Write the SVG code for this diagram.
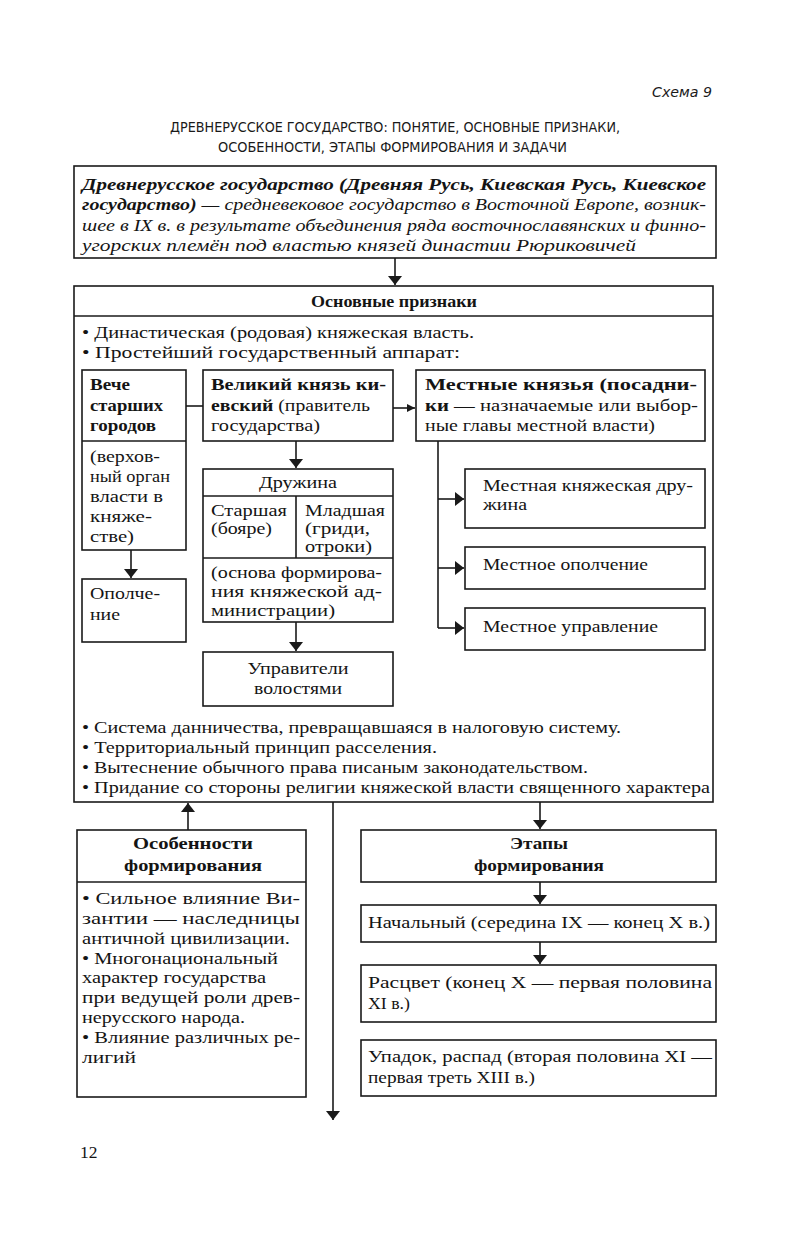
<svg xmlns="http://www.w3.org/2000/svg" width="791" height="1245" viewBox="0 0 791 1245">
<style>
.t{font-family:"Liberation Serif","Times New Roman",serif;font-size:17.5px;fill:#141414}
.s{font-size:16px}
.b{font-weight:bold}
.i{font-style:italic}
.h{font-family:"DejaVu Sans Condensed","DejaVu Sans",sans-serif;font-size:13.5px;fill:#1a1a1a}
.box{fill:none;stroke:#1a1a1a;stroke-width:1.6}
.ln{fill:none;stroke:#1a1a1a;stroke-width:1.6}
</style>
<defs>
<marker id="ah" viewBox="0 0 10 10" refX="10" refY="5" markerWidth="8" markerHeight="8" markerUnits="userSpaceOnUse" orient="auto">
<path d="M0,0 L10,5 L0,10 z" fill="#1a1a1a"/>
</marker>
<marker id="ahs" viewBox="0 0 10 10" refX="10" refY="5" markerWidth="9" markerHeight="14" markerUnits="userSpaceOnUse" orient="auto" preserveAspectRatio="none">
<path d="M0,0 L10,5 L0,10 z" fill="#1a1a1a"/>
</marker>
</defs>
<rect width="791" height="1245" fill="#ffffff"/>

<g id="header">
<text class="h i" x="652" y="97" textLength="60" lengthAdjust="spacingAndGlyphs">Схема 9</text>
<text class="h" x="170" y="132" textLength="450" lengthAdjust="spacingAndGlyphs">ДРЕВНЕРУССКОЕ ГОСУДАРСТВО: ПОНЯТИЕ, ОСНОВНЫЕ ПРИЗНАКИ,</text>
<text class="h" x="218" y="152" textLength="349" lengthAdjust="spacingAndGlyphs">ОСОБЕННОСТИ, ЭТАПЫ ФОРМИРОВАНИЯ И ЗАДАЧИ</text>
</g>

<g id="definition">
<rect class="box" x="74" y="166" width="642" height="92"/>
<text class="t i" x="82" y="190" textLength="624" lengthAdjust="spacingAndGlyphs"><tspan class="b">Древнерусское государство (Древняя Русь, Киевская Русь, Киевское</tspan></text>
<text class="t i" x="82" y="210" textLength="624" lengthAdjust="spacingAndGlyphs"><tspan class="b">государство)</tspan> — средневековое государство в Восточной Европе, возник-</text>
<text class="t i" x="82" y="231" textLength="624" lengthAdjust="spacingAndGlyphs">шее в IX в. в результате объединения ряда восточнославянских и финно-</text>
<text class="t i" x="82" y="251" textLength="554" lengthAdjust="spacingAndGlyphs">угорских племён под властью князей династии Рюриковичей</text>
</g>

<g id="main">
<rect class="box" x="74" y="286" width="639" height="516"/>
<line class="ln" x1="74" y1="316" x2="713" y2="316"/>
<text class="t b" x="394" y="307" text-anchor="middle" textLength="166" lengthAdjust="spacingAndGlyphs">Основные признаки</text>
<text class="t" x="82" y="338" textLength="392" lengthAdjust="spacingAndGlyphs">• Династическая (родовая) княжеская власть.</text>
<text class="t" x="82" y="358" textLength="378" lengthAdjust="spacingAndGlyphs">• Простейший государственный аппарат:</text>
<text class="t" x="82" y="733" textLength="539" lengthAdjust="spacingAndGlyphs">• Система данничества, превращавшаяся в налоговую систему.</text>
<text class="t" x="82" y="753" textLength="355" lengthAdjust="spacingAndGlyphs">• Территориальный принцип расселения.</text>
<text class="t" x="82" y="773" textLength="506" lengthAdjust="spacingAndGlyphs">• Вытеснение обычного права писаным законодательством.</text>
<text class="t" x="82" y="793" textLength="628" lengthAdjust="spacingAndGlyphs">• Придание со стороны религии княжеской власти священного характера</text>
</g>

<g id="veche">
<rect class="box" x="82" y="370" width="104" height="180"/>
<line class="ln" x1="82" y1="441" x2="186" y2="441"/>
<text class="t b" x="90" y="390" textLength="40" lengthAdjust="spacingAndGlyphs">Вече</text>
<text class="t b" x="90" y="411" textLength="73" lengthAdjust="spacingAndGlyphs">старших</text>
<text class="t b" x="90" y="431" textLength="66" lengthAdjust="spacingAndGlyphs">городов</text>
<text class="t" x="90" y="462" textLength="70" lengthAdjust="spacingAndGlyphs">(верхов-</text>
<text class="t" x="90" y="482" textLength="80" lengthAdjust="spacingAndGlyphs">ный орган</text>
<text class="t" x="90" y="502" textLength="73" lengthAdjust="spacingAndGlyphs">власти в</text>
<text class="t" x="90" y="522" textLength="62" lengthAdjust="spacingAndGlyphs">княже-</text>
<text class="t" x="90" y="542" textLength="44" lengthAdjust="spacingAndGlyphs">стве)</text>
</g>

<g id="opolchenie">
<rect class="box" x="82" y="579" width="104" height="63"/>
<text class="t" x="90" y="599" textLength="70" lengthAdjust="spacingAndGlyphs">Ополче-</text>
<text class="t" x="90" y="620" textLength="30" lengthAdjust="spacingAndGlyphs">ние</text>
</g>

<g id="velikiy">
<rect class="box" x="203" y="370" width="190" height="71"/>
<text class="t b" x="211" y="390" textLength="175" lengthAdjust="spacingAndGlyphs">Великий князь ки-</text>
<text class="t" x="211" y="411" textLength="159" lengthAdjust="spacingAndGlyphs"><tspan class="b">евский</tspan> (правитель</text>
<text class="t" x="211" y="431" textLength="109" lengthAdjust="spacingAndGlyphs">государства)</text>
</g>

<g id="druzhina">
<rect class="box" x="203" y="469" width="190" height="153"/>
<line class="ln" x1="203" y1="496" x2="393" y2="496"/>
<line class="ln" x1="203" y1="558" x2="393" y2="558"/>
<line class="ln" x1="296" y1="496" x2="296" y2="558"/>
<text class="t" x="298" y="488" text-anchor="middle" textLength="78" lengthAdjust="spacingAndGlyphs">Дружина</text>
<text class="t s" x="211" y="516" textLength="76" lengthAdjust="spacingAndGlyphs">Старшая</text>
<text class="t s" x="211" y="534" textLength="61" lengthAdjust="spacingAndGlyphs">(бояре)</text>
<text class="t s" x="305" y="516" textLength="80" lengthAdjust="spacingAndGlyphs">Младшая</text>
<text class="t s" x="305" y="534" textLength="65" lengthAdjust="spacingAndGlyphs">(гриди,</text>
<text class="t s" x="305" y="552" textLength="67" lengthAdjust="spacingAndGlyphs">отроки)</text>
<text class="t s" x="211" y="578" textLength="171" lengthAdjust="spacingAndGlyphs">(основа формирова-</text>
<text class="t s" x="211" y="597" textLength="171" lengthAdjust="spacingAndGlyphs">ния княжеской ад-</text>
<text class="t s" x="211" y="616" textLength="124" lengthAdjust="spacingAndGlyphs">министрации)</text>
</g>

<g id="upraviteli">
<rect class="box" x="203" y="652" width="190" height="54"/>
<text class="t" x="298" y="674" text-anchor="middle" textLength="101" lengthAdjust="spacingAndGlyphs">Управители</text>
<text class="t" x="298" y="694" text-anchor="middle" textLength="88" lengthAdjust="spacingAndGlyphs">волостями</text>
</g>

<g id="mestnye">
<rect class="box" x="416" y="370" width="289" height="71"/>
<text class="t b" x="425" y="390" textLength="272" lengthAdjust="spacingAndGlyphs">Местные князья (посадни-</text>
<text class="t" x="425" y="411" textLength="273" lengthAdjust="spacingAndGlyphs"><tspan class="b">ки</tspan> — назначаемые или выбор-</text>
<text class="t" x="425" y="431" textLength="230" lengthAdjust="spacingAndGlyphs">ные главы местной власти)</text>
</g>

<g id="mestnaya-druzhina">
<rect class="box" x="465" y="469" width="240" height="59"/>
<text class="t" x="483" y="491" textLength="210" lengthAdjust="spacingAndGlyphs">Местная княжеская дру-</text>
<text class="t" x="483" y="510" textLength="44" lengthAdjust="spacingAndGlyphs">жина</text>
</g>

<g id="mestnoe-opolchenie">
<rect class="box" x="465" y="547" width="240" height="42"/>
<text class="t" x="483" y="570" textLength="165" lengthAdjust="spacingAndGlyphs">Местное ополчение</text>
</g>

<g id="mestnoe-upravlenie">
<rect class="box" x="465" y="608" width="240" height="42"/>
<text class="t" x="483" y="632" textLength="175" lengthAdjust="spacingAndGlyphs">Местное управление</text>
</g>

<g id="osobennosti">
<rect class="box" x="77" y="830" width="229" height="267"/>
<line class="ln" x1="77" y1="882" x2="306" y2="882"/>
<text class="t b" x="193" y="849" text-anchor="middle" textLength="120" lengthAdjust="spacingAndGlyphs">Особенности</text>
<text class="t b" x="193" y="871" text-anchor="middle" textLength="138" lengthAdjust="spacingAndGlyphs">формирования</text>
<text class="t" x="82" y="904" textLength="218" lengthAdjust="spacingAndGlyphs">• Сильное влияние Ви-</text>
<text class="t" x="82" y="924" textLength="218" lengthAdjust="spacingAndGlyphs">зантии — наследницы</text>
<text class="t" x="82" y="944" textLength="208" lengthAdjust="spacingAndGlyphs">античной цивилизации.</text>
<text class="t" x="82" y="964" textLength="196" lengthAdjust="spacingAndGlyphs">• Многонациональный</text>
<text class="t" x="82" y="983" textLength="184" lengthAdjust="spacingAndGlyphs">характер государства</text>
<text class="t" x="82" y="1003" textLength="218" lengthAdjust="spacingAndGlyphs">при ведущей роли древ-</text>
<text class="t" x="82" y="1023" textLength="163" lengthAdjust="spacingAndGlyphs">нерусского народа.</text>
<text class="t" x="82" y="1043" textLength="218" lengthAdjust="spacingAndGlyphs">• Влияние различных ре-</text>
<text class="t" x="82" y="1063" textLength="54" lengthAdjust="spacingAndGlyphs">лигий</text>
</g>

<g id="etapy">
<rect class="box" x="361" y="830" width="355" height="52"/>
<text class="t b" x="539" y="849" text-anchor="middle" textLength="58" lengthAdjust="spacingAndGlyphs">Этапы</text>
<text class="t b" x="539" y="871" text-anchor="middle" textLength="130" lengthAdjust="spacingAndGlyphs">формирования</text>
</g>

<g id="nachalny">
<rect class="box" x="361" y="905" width="355" height="37"/>
<text class="t" x="368" y="928" textLength="342" lengthAdjust="spacingAndGlyphs">Начальный (середина IX — конец X в.)</text>
</g>

<g id="rascvet">
<rect class="box" x="361" y="965" width="355" height="57"/>
<text class="t" x="368" y="988" textLength="344" lengthAdjust="spacingAndGlyphs">Расцвет (конец X — первая половина</text>
<text class="t" x="368" y="1009" textLength="42" lengthAdjust="spacingAndGlyphs">XI в.)</text>
</g>

<g id="upadok">
<rect class="box" x="361" y="1040" width="355" height="56"/>
<text class="t" x="368" y="1062" textLength="344" lengthAdjust="spacingAndGlyphs">Упадок, распад (вторая половина XI —</text>
<text class="t" x="368" y="1083" textLength="167" lengthAdjust="spacingAndGlyphs">первая треть XIII в.)</text>
</g>

<g id="connectors">
<line class="ln" x1="395" y1="258" x2="395" y2="285" marker-end="url(#ahs)"/>
<line class="ln" x1="186" y1="406" x2="203" y2="406"/>
<line class="ln" x1="393" y1="408" x2="415" y2="408" marker-end="url(#ah)"/>
<line class="ln" x1="131" y1="550" x2="131" y2="578" marker-end="url(#ahs)"/>
<line class="ln" x1="296" y1="441" x2="296" y2="468" marker-end="url(#ahs)"/>
<line class="ln" x1="296" y1="622" x2="296" y2="651" marker-end="url(#ahs)"/>
<line class="ln" x1="438" y1="441" x2="438" y2="628"/>
<line class="ln" x1="438" y1="499" x2="464" y2="499" marker-end="url(#ahs)"/>
<line class="ln" x1="438" y1="568" x2="464" y2="568" marker-end="url(#ahs)"/>
<line class="ln" x1="438" y1="628" x2="464" y2="628" marker-end="url(#ahs)"/>
<line class="ln" x1="188" y1="830" x2="188" y2="803" marker-end="url(#ahs)"/>
<line class="ln" x1="333" y1="802" x2="333" y2="1120" marker-end="url(#ahs)"/>
<line class="ln" x1="540" y1="802" x2="540" y2="829" marker-end="url(#ahs)"/>
<line class="ln" x1="540" y1="882" x2="540" y2="904" marker-end="url(#ahs)"/>
<line class="ln" x1="540" y1="942" x2="540" y2="964" marker-end="url(#ahs)"/>
</g>

<text class="t" x="80" y="1158" font-size="17">12</text>
</svg>
